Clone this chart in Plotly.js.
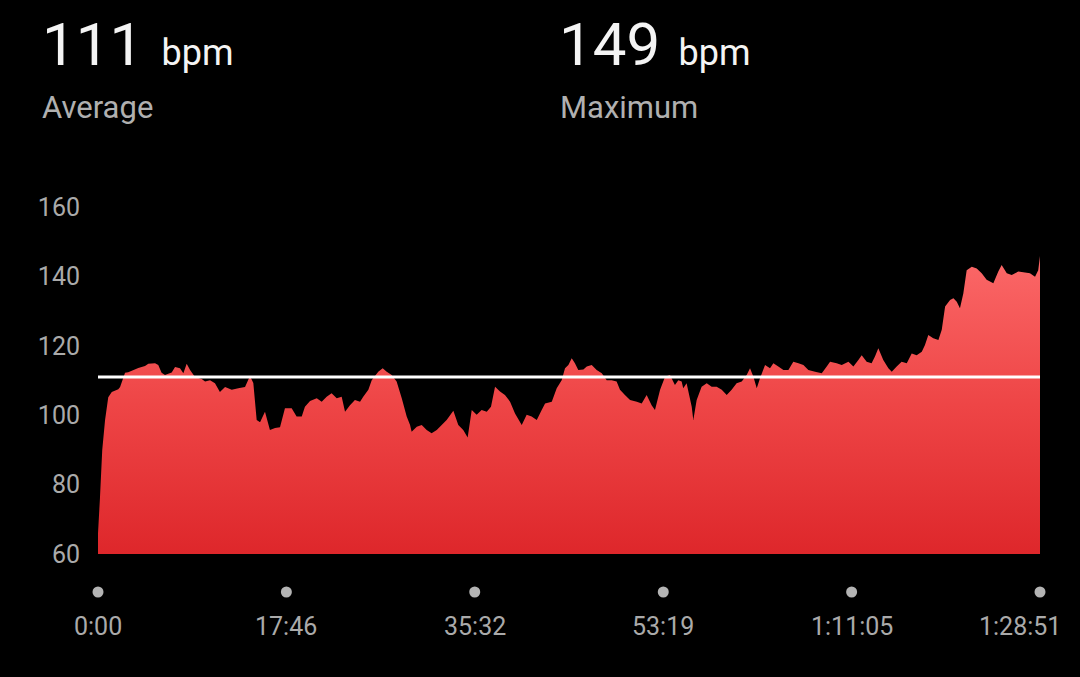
<!DOCTYPE html>
<html>
<head>
<meta charset="utf-8">
<script src="https://cdn.plot.ly/plotly-3.0.1.min.js"></script>
<style>
  html, body { margin: 0; padding: 0; background: #000; }
  #chart { width: 1080px; height: 677px; }
</style>
</head>
<body>
<div id="chart"></div>
<script>
// ---- data ----
const timeSec = [
  0, 11, 24, 40, 58, 78, 115, 125, 153, 171, 228, 266, 285, 323, 341, 360, 379, 417, 436, 464, 483, 502, 521, 549, 587, 606, 634, 662, 690, 719, 757, 794, 832, 860,
  879, 898, 917, 945, 973, 1002, 1030, 1058, 1096, 1124, 1153, 1171, 1200, 1238, 1266, 1294, 1322, 1351, 1379, 1398, 1426, 1454, 1483, 1501, 1530, 1549, 1586, 1611, 1634, 1662, 1690, 1719, 1747, 1766,
  1775, 1804, 1832, 1860, 1888, 1917, 1945, 1973, 2011, 2039, 2067, 2092, 2115, 2143, 2171, 2200, 2224, 2247, 2275, 2303, 2332, 2360, 2398, 2426, 2454, 2483, 2511, 2530, 2568, 2596, 2624, 2643,
  2662, 2681, 2699, 2718, 2747, 2766, 2794, 2822, 2851, 2879, 2907, 2935, 2954, 2982, 3011, 3049, 3077, 3105, 3133, 3152, 3181, 3209, 3237, 3265, 3284, 3303, 3312, 3331, 3360, 3369, 3388, 3416, 3445, 3473, 3501,
  3530, 3558, 3586, 3614, 3643, 3671, 3690, 3709, 3728, 3746, 3775, 3803, 3822, 3850, 3879, 3907, 3935, 3964, 3992, 4020, 4058, 4096, 4124, 4143, 4180, 4209, 4247, 4275, 4303, 4322, 4350, 4378,
  4397, 4416, 4444, 4473, 4492, 4520, 4548, 4577, 4605, 4633, 4662, 4680, 4699, 4727, 4756, 4775, 4794, 4822, 4841, 4860, 4878, 4897, 4916, 4945, 4973, 5001, 5029, 5067, 5095, 5114, 5143, 5171, 5208, 5246, 5274, 5303, 5321, 5331
];
const heartRate = [
  66, 76, 90, 98.6, 105.2, 106.7, 107.5, 108.1, 112.2, 112.4, 113.6, 114.2, 114.8, 115.0, 114.5, 112.2, 111.6, 112.3, 113.9, 113.5, 112.1, 114.8, 113.0, 111.0, 110.4, 109.7, 110.1, 109.2, 106.7, 108.1, 107.3, 107.8, 108.1, 111.3,
  109.3, 98.6, 98.0, 101.0, 95.7, 96.3, 96.5, 102.0, 102.0, 99.6, 99.6, 102.4, 104.1, 104.9, 103.9, 105.3, 106.3, 104.9, 105.3, 101.0, 102.9, 104.4, 103.9, 105.3, 107.3, 110.1, 112.5, 113.5, 112.5, 111.6, 109.7, 104.9, 99.6, 97.2,
  95.2, 96.7, 97.2, 95.7, 94.8, 95.7, 97.2, 98.6, 101.3, 97.2, 95.7, 93.6, 101.5, 100.1, 101.5, 101.0, 102.4, 108.2, 106.8, 105.8, 103.9, 100.5, 97.2, 100.1, 99.6, 98.6, 101.5, 103.4, 103.9, 107.8, 110.1, 113.5,
  114.5, 116.4, 115.0, 113.0, 113.2, 114.0, 114.5, 113.0, 112.1, 110.1, 110.1, 109.7, 107.3, 105.8, 104.4, 103.9, 103.4, 105.8, 102.9, 101.5, 107.3, 111.1, 111.6, 108.7, 110.1, 109.7, 107.8, 109.2, 102.4, 98.6, 104.4, 108.2, 109.2, 108.2, 108.2,
  107.3, 105.8, 107.3, 109.2, 109.7, 111.6, 113.5, 111.1, 107.8, 110.6, 114.5, 113.5, 115.0, 114.0, 113.0, 113.0, 115.4, 115.0, 114.5, 113.0, 112.5, 112.1, 114.0, 115.4, 115.0, 114.5, 115.4, 114.0, 115.9, 117.3, 115.4, 115.0,
  116.9, 119.3, 115.9, 113.5, 112.5, 114.0, 115.4, 115.0, 117.8, 117.3, 118.3, 120.2, 123.1, 122.2, 121.7, 124.6, 131.3, 133.2, 133.7, 132.7, 130.8, 135.1, 141.8, 142.8, 142.3, 140.9, 139.0, 138.0, 141.4, 143.3, 140.9, 140.4, 141.4, 141.1, 140.9, 139.9, 141.8, 145.9
];
const avgBpm = 111;
const maxBpm = 149;
const xTickVals = [0, 1066, 2132, 3199, 4265, 5331];
const xTickText = ["0:00", "17:46", "35:32", "53:19", "1:11:05", "1:28:51"];
const yTickVals = [60, 80, 100, 120, 140, 160];

// ---- chart ----
const FONT = "Roboto, 'Noto Sans', sans-serif";
const tStart = timeSec[0];
const tEnd = timeSec[timeSec.length - 1];

const area = {
  x: timeSec, y: heartRate,
  type: 'scatter', mode: 'none', fill: 'tozeroy',
  fillgradient: {
    type: 'vertical', start: 60, stop: 146,
    colorscale: [[0, '#de272b'], [0.5, '#ee4546'], [1, '#fb6868']]
  },
  hoverinfo: 'skip'
};
const avgLine = {
  x: [tStart, tEnd], y: [avgBpm, avgBpm],
  type: 'scatter', mode: 'lines',
  line: { color: '#ffffff', width: 3 },
  hoverinfo: 'skip'
};

const plotH = 347;
const dotY = -38 / plotH;
const labelY = -72 / plotH;
const toPaperX = v => (v - tStart) / (tEnd - tStart);

const shapes = xTickVals.map(v => ({
  type: 'circle', xref: 'paper', yref: 'paper',
  xsizemode: 'pixel', ysizemode: 'pixel',
  xanchor: toPaperX(v), yanchor: dotY,
  x0: -5.5, x1: 5.5, y0: -5.5, y1: 5.5,
  fillcolor: '#b4b4b4', line: { width: 0 }
}));

const annotations = xTickVals.map((v, i) => ({
  x: toPaperX(v), y: labelY, xref: 'paper', yref: 'paper',
  text: xTickText[i], showarrow: false,
  xanchor: 'center', yanchor: 'middle',
  xshift: i === xTickVals.length - 1 ? -20 : 0,
  font: { family: FONT, size: 25, color: '#aaaaaa' }
}));

const pw = 942;
function px(xp) { return (xp - 98) / pw; }
function py(yp) { return (554 - yp) / plotH; }

annotations.push(
  { xref: 'paper', yref: 'paper', x: px(40), y: py(44), xanchor: 'left', yanchor: 'middle', showarrow: false,
    text: avgBpm + '<span style="font-size:36px">\u2002bpm</span>',
    font: { family: FONT, size: 60, color: '#f4f4f4' } },
  { xref: 'paper', yref: 'paper', x: px(40), y: py(107), xanchor: 'left', yanchor: 'middle', showarrow: false,
    text: 'Average', font: { family: FONT, size: 31, color: '#b0b0b0' } },
  { xref: 'paper', yref: 'paper', x: px(557), y: py(44), xanchor: 'left', yanchor: 'middle', showarrow: false,
    text: maxBpm + '<span style="font-size:36px">\u2002bpm</span>',
    font: { family: FONT, size: 60, color: '#f4f4f4' } },
  { xref: 'paper', yref: 'paper', x: px(558), y: py(107), xanchor: 'left', yanchor: 'middle', showarrow: false,
    text: 'Maximum', font: { family: FONT, size: 31, color: '#b0b0b0' } }
);

const layout = {
  width: 1080, height: 677,
  paper_bgcolor: '#000000', plot_bgcolor: '#000000',
  margin: { l: 98, r: 40, t: 207, b: 123, pad: 0 },
  showlegend: false,
  xaxis: {
    range: [tStart, tEnd], showgrid: false, zeroline: false,
    showticklabels: false, ticks: '', showline: false, fixedrange: true
  },
  yaxis: {
    range: [60, 160], tickvals: yTickVals, showgrid: false, zeroline: false,
    showline: false, ticks: 'outside', ticklen: 12, tickcolor: 'rgba(0,0,0,0)',
    tickfont: { family: FONT, size: 25, color: '#aaaaaa' }, fixedrange: true
  },
  shapes: shapes,
  annotations: annotations
};

Plotly.newPlot('chart', [area, avgLine], layout, { staticPlot: true, displayModeBar: false });
</script>
</body>
</html>
